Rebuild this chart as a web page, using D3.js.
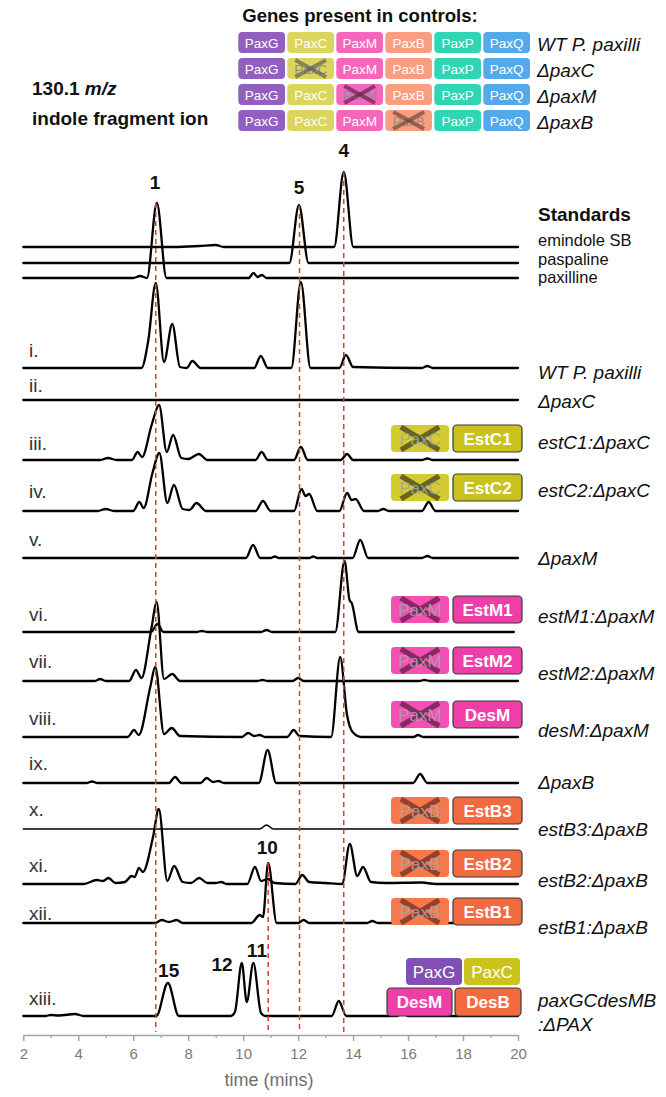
<!DOCTYPE html>
<html><head><meta charset="utf-8">
<script src="https://cdn.jsdelivr.net/npm/d3@7"></script>
<style>
body{margin:0;background:#fff}
svg{display:block}
text{font-family:"Liberation Sans",Arial,Helvetica,sans-serif}
</style>
</head><body>
<svg id="chart" width="666" height="1097"></svg>
<script>
// ---------------- DATA ----------------
const xTicks = [2,4,6,8,10,12,14,16,18,20];
const xMinorTicks = [3,5,7,9,11,13,15,17,19];
const xTitle = "time (mins)";

const geneNames = ["PaxG","PaxC","PaxM","PaxB","PaxP","PaxQ"];
const controlStrains = ["WT P. paxilli","ΔpaxC","ΔpaxM","ΔpaxB"];
const controlDeleted = [null,"PaxC","PaxM","PaxB"];

// traces: [time (min), intensity (rel.)]
const stdEmindoleSB = [[2,0],[7.5,0],[8.4,1],[9.0,2],[9.3,0],[13.31,0],[13.66,75],[14.01,0],[20,0]];
const stdPaspaline  = [[2,0],[11.68,0],[12.03,58],[12.38,0],[20,0]];
const stdPaxilline  = [[2,0],[6.0,0],[6.25,2],[6.5,0],[6.86,75],[7.21,0],[10.2,0],[10.38,5],[10.52,1],[10.68,3],[10.85,0],[20,0]];
const trI    = [[2,0],[6.3,0],[6.55,28],[6.82,85],[7.12,6],[7.42,44],[7.7,1],[7.95,0],[8.15,7],[8.45,0],[10.4,0],[10.64,12],[10.9,0],[11.75,0],[12.1,86],[12.45,0],[13.5,0],[13.74,13],[14.0,1],[16.5,0],[16.7,2],[16.9,0],[20,0]];
const trII   = [[2,0],[20,0]];
const trIII  = [[2,0],[4.8,0],[5.08,2],[5.4,0],[5.95,0],[6.16,8],[6.32,3],[6.67,35],[6.94,55],[7.22,8],[7.45,25],[7.75,2],[8.0,1],[8.39,6],[8.7,0],[10.45,0],[10.67,8],[10.9,0],[11.85,0],[12.1,13],[12.35,0],[13.55,0],[13.78,6],[14.0,0],[16.5,0],[16.7,1.5],[16.9,0],[20,0]];
const trIV   = [[2,0],[4.7,0],[5.0,2],[5.3,0],[6.0,0],[6.22,9],[6.38,3],[6.7,38],[6.95,58],[7.24,8],[7.48,26],[7.8,2],[8.05,1],[8.3,8],[8.65,0],[10.45,0],[10.72,10],[11.0,0],[11.85,0],[12.12,22],[12.27,15],[12.4,17],[12.7,0],[13.5,0],[13.78,18],[13.95,11],[14.09,12],[14.4,0],[14.9,0],[15.1,2],[15.3,0],[16.5,0],[16.75,9],[17.0,0],[20,0]];
const trV    = [[2,0],[10.1,0],[10.36,13],[10.62,0],[11.0,0],[11.15,1.5],[11.3,0],[12.4,0],[12.55,1.5],[12.7,0],[13.98,0],[14.26,18],[14.55,0],[16.5,0],[16.7,2],[16.9,0],[20,0]];
const trVI   = [[2,0],[6.65,0],[6.88,8],[7.1,0],[8.3,0],[8.5,1],[8.7,0],[10.65,0],[10.85,2],[11.05,0],[13.35,0],[13.69,71],[13.87,32],[13.95,29],[14.2,0],[19.85,0]];
const trVII  = [[2,0],[4.6,0],[4.8,2],[5.0,0],[5.85,0],[6.1,11],[6.3,3],[6.67,54],[6.85,79],[7.12,2],[7.42,7],[7.7,0],[10.5,0],[10.7,1],[10.9,0],[11.8,0],[12.0,3],[12.2,0],[16.4,0],[16.6,1],[16.8,0],[20,0]];
const trVIII = [[2,0],[5.8,0],[6.03,7],[6.2,2],[6.62,50],[6.8,70],[7.12,3],[7.4,9],[7.7,1],[9.95,0],[10.18,4],[10.4,1],[10.6,2],[10.8,0],[11.6,0],[11.84,7],[12.05,1],[13.2,0],[13.53,80],[13.78,22],[13.98,5],[14.3,0],[16.2,0],[16.36,2],[16.55,0],[20,0]];
const trIX   = [[2,0],[4.3,0],[4.5,1.5],[4.7,0],[7.3,0],[7.52,6],[7.75,0],[8.45,0],[8.67,5],[8.9,1],[9.1,2],[9.3,0],[10.57,0],[10.89,33],[11.2,0],[16.18,0],[16.44,9],[16.7,0],[20,0]];
const trX    = [[2,0],[10.6,0],[10.85,4],[11.1,0],[20,0]];
const trXI   = [[2,0],[4.2,0],[4.67,4],[4.9,3],[5.1,6],[5.35,1],[5.7,2],[5.94,8],[6.05,7],[6.21,16],[6.35,12],[6.72,47],[6.93,75],[7.24,3],[7.49,18],[7.8,2],[8.1,1],[8.4,6],[8.7,1],[9.0,1],[9.2,2],[9.4,0],[10.15,0],[10.43,17],[10.65,3],[10.9,5],[11.15,1],[11.9,0],[12.15,9],[12.4,2],[13.0,1],[13.6,0],[13.88,40],[14.15,8],[14.36,17],[14.65,2],[15.2,1],[16.5,1.5],[17,0],[20,0]];
const trXII  = [[2,0],[6.8,0],[7.03,3],[7.3,1],[7.58,3],[7.8,0],[10.3,0],[10.6,8],[10.72,6],[10.91,60],[11.22,0],[12.0,0],[12.2,3],[12.4,0],[14.5,0],[14.7,2],[14.9,0],[20,0]];
const trXIII = [[2,0],[2.8,0],[3.0,1],[3.3,0.5],[3.88,2],[4.2,0],[6.84,0],[7.26,33],[7.66,0],[9.55,0],[9.7,4],[9.95,53],[10.13,14],[10.37,53],[10.65,3],[10.8,0],[13.22,0],[13.48,15],[13.75,0],[15.6,0],[15.8,3],[16.0,0],[20,0]];

const standardNames = ["emindole SB","paspaline","paxilline"];
const rowNumerals = ["i.","ii.","iii.","iv.","v.","vi.","vii.","viii.","ix.","x.","xi.","xii.","xiii."];
const strainNames = ["WT P. paxilli","ΔpaxC","estC1:ΔpaxC","estC2:ΔpaxC","ΔpaxM","estM1:ΔpaxM","estM2:ΔpaxM","desM:ΔpaxM","ΔpaxB","estB3:ΔpaxB","estB2:ΔpaxB","estB1:ΔpaxB","paxGCdesMB"];
const complementDeleted = ["PaxC","PaxC","PaxM","PaxM","PaxM","PaxB","PaxB","PaxB"];
const complementGene    = ["EstC1","EstC2","EstM1","EstM2","DesM","EstB3","EstB2","EstB1"];
const refTimes = [6.82, 10.91, 12.05, 13.66];
const peakLabelText = ["1","5","4","10","15","12","11"];
const peakLabelTime = [6.79, 12.03, 13.66, 10.88, 7.29, 9.23, 10.5];

// ---------------- LAYOUT / STYLE ----------------
const FONT = '"Liberation Sans",Arial,Helvetica,sans-serif';
const svg = d3.select("#chart");
const x = d3.scaleLinear().domain([2,20]).range([23.3,518]);
const traces = [stdEmindoleSB,stdPaspaline,stdPaxilline,trI,trII,trIII,trIV,trV,trVI,trVII,trVIII,trIX,trX,trXI,trXII,trXIII];
const traceBase = [247,263,278,368,400,460,511,558,632,681,737,783,829,884,923,1016];
const traceWidth = traces.map((t,i)=> i===12 ? 1.5 : 2.3);
const rowLabelY = [350,385,443,491,539,614,661,718,763,809,865,913,998];
const strainLabelY = [372,401,442,490,558,616,673,730,782,829,880,927,1000];
const complementY = [425,474,596,647,701,797,850,898];
const refStartY = [203,863,205,172];
const peakLabelY = [182,187,150,847,970,964,950];

const legendColor = {PaxG:"#925fbe",PaxC:"#dbd55b",PaxM:"#f666bd",PaxB:"#f99e80",PaxP:"#2fd6b3",PaxQ:"#53aaea"};
const legendXColor = {PaxC:"rgba(95,95,95,0.7)",PaxM:"rgba(110,40,85,0.75)",PaxB:"rgba(125,75,60,0.75)"};
const estFill = {PaxC:"#c9c11c",PaxM:"#ee3fa9",PaxB:"#f26a3f"};
const crossFill = {PaxC:"#d3cb30",PaxM:"#f34fb4",PaxB:"#f5794d"};
const crossXColor = {PaxC:"rgba(85,82,30,0.85)",PaxM:"rgba(115,35,85,0.85)",PaxB:"rgba(130,55,40,0.85)"};

// ---------- box helper ----------
function box(xp, yp, w, h, label, fill, o){
  o = o || {};
  const g = svg.append("g");
  g.append("rect").attr("x",xp).attr("y",yp).attr("width",w).attr("height",h)
    .attr("rx",4).attr("ry",4).attr("fill",fill)
    .attr("stroke",o.outline ? "#3a3a3a" : "none").attr("stroke-width",o.outline?1.2:0);
  const drawX = () => {
    const ix = w*0.17, iy = 2;
    [[xp+ix,yp+iy,xp+w-ix,yp+h-iy],[xp+w-ix,yp+iy,xp+ix,yp+h-iy]].forEach(l=>{
      g.append("line").attr("x1",l[0]).attr("y1",l[1]).attr("x2",l[2]).attr("y2",l[3])
        .attr("stroke",o.xColor).attr("stroke-width",o.xw||5);
    });
  };
  if (o.crossed && o.xUnder) drawX();
  g.append("text").attr("x",xp+w/2).attr("y",yp+h/2+0.5)
    .attr("text-anchor","middle").attr("dominant-baseline","central")
    .attr("font-size",o.fs||13.5).attr("font-weight",o.bold?"bold":"normal")
    .attr("fill",o.crossed ? (o.textColor||"#8e8e8e") : "#fff").text(label);
  if (o.crossed && !o.xUnder) drawX();
}

// ---------- header ----------
svg.append("text").attr("x",360).attr("y",15).attr("text-anchor","middle")
  .attr("dominant-baseline","central").attr("font-size",18.6).attr("font-weight","bold")
  .attr("fill","#111").text("Genes present in controls:");

const lt = svg.append("text").attr("x",32).attr("y",88).attr("dominant-baseline","central")
  .attr("font-size",19).attr("font-weight","bold").attr("fill","#111");
lt.append("tspan").text("130.1 ");
lt.append("tspan").attr("font-style","italic").text("m/z");
svg.append("text").attr("x",32).attr("y",118).attr("dominant-baseline","central")
  .attr("font-size",19).attr("font-weight","bold").attr("fill","#111").text("indole fragment ion");

controlStrains.forEach((s,ri)=>{
  const yy = 32 + ri*26;
  geneNames.forEach((gname,ci)=>{
    const crossed = controlDeleted[ri]===gname;
    box(238.3+ci*49, yy, 46.7, 21, gname, legendColor[gname],
      {crossed, xColor: legendXColor[gname], xw:4, fs:13.5});
  });
  svg.append("text").attr("x",537).attr("y",yy+12).attr("dominant-baseline","central")
    .attr("font-size",19).attr("font-style","italic").attr("fill","#111").text(s);
});

// ---------- traces ----------
const line = d3.line().x(d=>x(d[0])).curve(d3.curveMonotoneX);
const gTr = svg.append("g");
traces.forEach((t,i)=>{
  const y = d3.scaleLinear().domain([0,100]).range([traceBase[i], traceBase[i]-100]);
  gTr.append("path").datum(t)
    .attr("d", line.y(d=>y(d[1])))
    .attr("fill","none").attr("stroke","#000").attr("stroke-width",traceWidth[i])
    .attr("stroke-linejoin","round").attr("stroke-linecap","round");
});

// ---------- reference dashed lines ----------
refTimes.forEach((t,i)=>{
  svg.append("line").attr("x1",x(t)).attr("x2",x(t)).attr("y1",refStartY[i]).attr("y2",1032)
    .attr("stroke","#dc3b33").attr("stroke-width",1.5).attr("stroke-dasharray","5,4");
});

// ---------- peak labels ----------
peakLabelText.forEach((p,i)=>{
  svg.append("text").attr("x",x(peakLabelTime[i])).attr("y",peakLabelY[i])
    .attr("text-anchor","middle").attr("dominant-baseline","central")
    .attr("font-size",19).attr("font-weight","bold").attr("fill","#111").text(p);
});

// ---------- right labels ----------
svg.append("text").attr("x",538).attr("y",214).attr("dominant-baseline","central")
  .attr("font-size",19).attr("font-weight","bold").attr("fill","#111").text("Standards");
standardNames.forEach((s,i)=>{
  svg.append("text").attr("x",538).attr("y",[240,258.5,277][i]).attr("dominant-baseline","central")
    .attr("font-size",16.5).attr("fill","#111").text(s);
});
strainNames.forEach((s,i)=>{
  svg.append("text").attr("x",538).attr("y",strainLabelY[i]).attr("dominant-baseline","central")
    .attr("font-size",19).attr("font-style","italic").attr("fill","#111").text(s);
});
svg.append("text").attr("x",538).attr("y",1024).attr("dominant-baseline","central")
  .attr("font-size",19).attr("font-style","italic").attr("fill","#111").text(":ΔPAX");

rowNumerals.forEach((r,i)=>{
  svg.append("text").attr("x",29).attr("y",rowLabelY[i]).attr("dominant-baseline","central")
    .attr("font-size",19).attr("fill","#333").text(r);
});

// ---------- complementation boxes ----------
complementGene.forEach((gname,i)=>{
  const del = complementDeleted[i];
  box(391, complementY[i], 58, 27, del, crossFill[del],
    {crossed:true, xUnder:true, xColor:crossXColor[del], xw:5.5, fs:17, textColor:"rgba(165,165,165,0.9)"});
  box(453, complementY[i], 69, 27, gname, estFill[del], {outline:true, bold:true, fs:17});
});
box(406, 958, 56, 27, "PaxG", "#8050b4", {fs:17});
box(464, 958, 56, 27, "PaxC", "#cbc31d", {fs:17});
box(387, 988, 65, 28, "DesM", "#ee3fa9", {outline:true, bold:true, fs:17});
box(455, 988, 66, 28, "DesB", "#f26a3f", {outline:true, bold:true, fs:17});

// ---------- axis ----------
const ax = svg.append("g").attr("transform","translate(0,1035)")
  .call(d3.axisBottom(x).tickValues(xTicks).tickSize(6).tickSizeOuter(0).tickPadding(7));
ax.select(".domain").attr("stroke","#a3a3a3").attr("stroke-width",1.5);
ax.selectAll(".tick line").attr("stroke","#a3a3a3").attr("stroke-width",1.5);
ax.selectAll(".tick text").attr("fill","#7a7a7a").attr("font-size",15).attr("font-family",FONT);
const axm = svg.append("g").attr("transform","translate(0,1035)")
  .call(d3.axisBottom(x).tickValues(xMinorTicks).tickSize(3).tickFormat(""));
axm.select(".domain").remove();
axm.selectAll(".tick line").attr("stroke","#a3a3a3").attr("stroke-width",1.2);
svg.append("text").attr("x",269).attr("y",1080).attr("text-anchor","middle")
  .attr("dominant-baseline","central").attr("font-size",18).attr("fill","#6e6e6e").text(xTitle);
</script>
</body></html>
